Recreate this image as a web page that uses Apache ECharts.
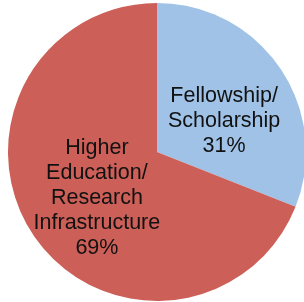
<!DOCTYPE html>
<html><head><meta charset="utf-8">
<script src="https://cdn.jsdelivr.net/npm/echarts@6/dist/echarts.min.js"></script>
<style>html,body{margin:0;padding:0;background:#fff}#c{width:304px;height:302px}</style>
</head><body><div id="c"></div>
<script>
const categories = ['Fellowship/\nScholarship', 'Higher\nEducation/\nResearch\nInfrastructure'];
const values = [31, 69];
const colors = ['#9fc2e6', '#cc5f57'];
const offsets = [[3, 13], [4, 3]];
const chart = echarts.init(document.getElementById('c'), null, {renderer: 'canvas'});
chart.setOption({
  animation: false,
  series: [{
    type: 'pie',
    center: [157, 152],
    radius: 149,
    startAngle: 90,
    clockwise: true,
    data: categories.map((c, i) => ({name: c, value: values[i], itemStyle: {color: colors[i]}})),
    itemStyle: {borderWidth: 0},
    label: {
      position: 'inside',
      formatter: '{b}\n{d}%',
      fontFamily: 'Liberation Sans, Arial, sans-serif',
      fontSize: 21.5,
      lineHeight: 25,
      color: '#111',
      align: 'center'
    },
    labelLine: {show: false},
    labelLayout: function (p) { return {dx: offsets[p.dataIndex][0], dy: offsets[p.dataIndex][1]}; },
    emphasis: {disabled: true}
  }]
});
</script></body></html>
